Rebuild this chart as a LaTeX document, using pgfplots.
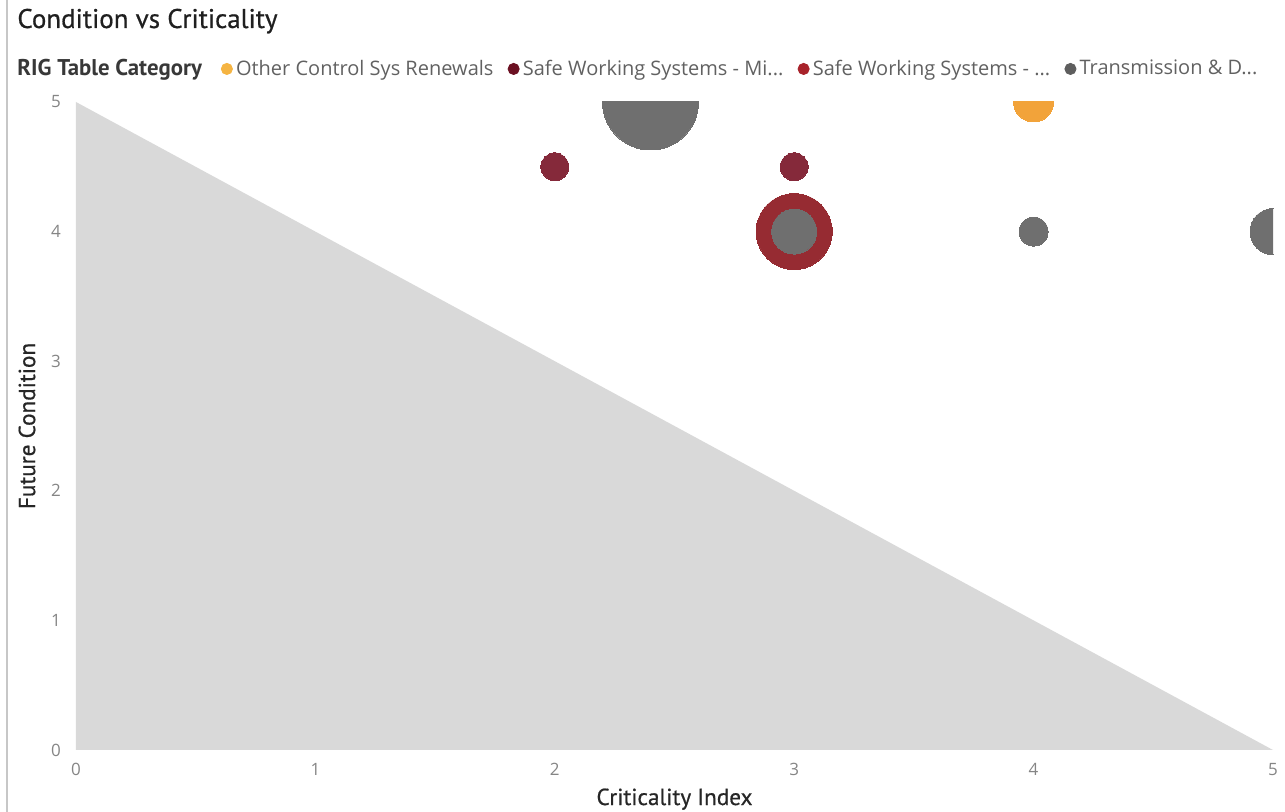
\documentclass[border=0pt]{standalone}
\usepackage{pgfplots}
\pgfplotsset{compat=1.18}
\usepackage{fontspec}
\setmainfont{Open Sans}
\newfontfamily\dinfont{PT Sans}
\newfontfamily\dinmed[FakeBold=0.6]{PT Sans}
\definecolor{triGray}{HTML}{D9D9D9}
\definecolor{cOrange}{HTML}{F2A33A}
\definecolor{cOrangeL}{HTML}{F5B442}
\definecolor{cMaroon}{HTML}{85293A}
\definecolor{cMaroonL}{HTML}{6B1022}
\definecolor{cRed}{HTML}{962B32}
\definecolor{cRedL}{HTML}{A8232B}
\definecolor{cGray}{HTML}{6F6F6F}
\definecolor{cGrayL}{HTML}{5E5E5E}
\pgfplotsset{
  bubble/.style={scatter, only marks, mark=*, forget plot,
    scatter/use mapped color={draw=#1, fill=#1},
    mark options={line width=0pt},
    visualization depends on={\thisrow{r} \as \rad},
    scatter/@pre marker code/.append style={/tikz/mark size=\rad}},
}
\pgfplotstableread{
x y r
4 5 10
}\orangeT
\pgfplotstableread{
x y r
2 4.5 7
3 4.5 7
}\maroonT
\pgfplotstableread{
x y r
3 4 19
}\redT
\pgfplotstableread{
x y r
2.4 5 24
3 4 11.25
4 4 7.25
5 4 11.5
}\grayT
\begin{document}
\begin{tikzpicture}
\useasboundingbox (0,0) rectangle (642.5pt,406pt);
\draw[color=black!22, line width=0.6pt] (3.5pt,0) -- (3.5pt,406pt);
\node[anchor=base west, font=\dinmed\fontsize{13.5}{15}\selectfont, text=black!88, inner sep=0] at (8.5pt,392pt) {Condition vs Criticality};
\node[anchor=base west, font=\dinfont\bfseries\fontsize{11.4}{13}\selectfont, text=black!78, inner sep=0] at (8.5pt,368pt) {RIG Table Category};
\begin{axis}[
  at={(38pt,31pt)}, anchor=south west, scale only axis,
  width=598.5pt, height=324pt,
  xmin=0, xmax=5, ymin=0, ymax=5,
  xtick={0,1,2,3,4,5}, ytick={0,1,2,3,4,5},
  axis line style={draw=none}, major tick length=0pt,
  tick label style={font=\fontsize{8.5}{10}\selectfont, text=black!48},
  /pgf/number format/assume math mode=true,
  yticklabel style={xshift=-4pt},
  xticklabel style={yshift=-3pt},
  xlabel={Criticality Index}, ylabel={Future Condition},
  label style={font=\dinmed\fontsize{11.6}{13}\selectfont, text=black!85},
  xlabel style={at={(axis description cs:0.5,-0.0849)}, anchor=base},
  ylabel style={at={(axis description cs:-0.0342,0.5)}, anchor=base},
  clip marker paths=true,
  legend columns=-1,
  legend style={draw=none, fill=none, at={(axis description cs:0.1207,1.051)}, anchor=west,
    font=\fontsize{10}{11}\selectfont, text=black!62, inner sep=0pt,
    nodes={inner sep=1.6pt},
    /tikz/every even column/.append style={column sep=5.5pt}},
  legend cell align=left,
]
\addplot[fill=triGray, draw=none, forget plot] coordinates {(0,0) (0,5) (5,0)} -- cycle;
\addplot[bubble=cMaroon] table[x=x,y=y] {\maroonT};
\addplot[bubble=cOrange] table[x=x,y=y] {\orangeT};
\addplot[bubble=cRed] table[x=x,y=y] {\redT};
\addplot[bubble=cGray] table[x=x,y=y] {\grayT};
\addlegendimage{legend image code/.code={\fill[cOrangeL] (2.8pt,0pt) circle (2.8pt);}}
\addlegendentry{Other Control Sys Renewals}
\addlegendimage{legend image code/.code={\fill[cMaroonL] (2.8pt,0pt) circle (2.8pt);}}
\addlegendentry{Safe Working Systems - Mi...}
\addlegendimage{legend image code/.code={\fill[cRedL] (2.8pt,0pt) circle (2.8pt);}}
\addlegendentry{Safe Working Systems - ...}
\addlegendimage{legend image code/.code={\fill[cGrayL] (2.8pt,0pt) circle (2.8pt);}}
\addlegendentry{Transmission \& D...}
\end{axis}
\end{tikzpicture}
\end{document}
